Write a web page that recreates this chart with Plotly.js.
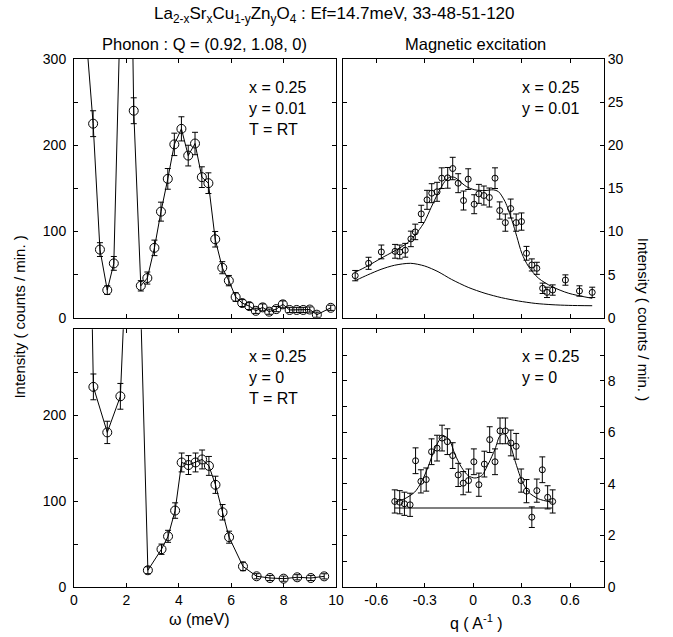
<!DOCTYPE html>
<html>
<head>
<meta charset="utf-8">
<script src="https://cdn.plot.ly/plotly-3.0.1.min.js"></script>
<style>html,body{margin:0;padding:0;background:#fff;}#chart{width:673px;height:637px;}</style>
</head>
<body>
<div id="chart"></div>
<script>
// ---- Top-left: phonon, x=0.25 y=0.01 ----
const tlX = [0.47, 0.73, 0.99, 1.27, 1.52, 1.77, 2.02, 2.28, 2.55, 2.80, 3.07, 3.32, 3.58, 3.83, 4.10, 4.36, 4.62, 4.88, 5.13, 5.39, 5.66, 5.91, 6.17, 6.42, 6.69, 6.94, 7.20, 7.45, 7.72, 7.97, 8.23, 8.50, 8.75, 9.00, 9.27, 9.80];
const tlY = [325, 225, 79, 32, 63, 360, 770, 240, 37, 46, 81, 123, 161, 201, 219, 188, 202, 163, 156, 91, 58, 43, 24, 17, 13.5, 8, 12, 7, 10, 15.5, 9, 9, 9, 9.5, 3.5, 11.5];
const tlErr = [0, 15, 8, 5, 8, 0, 0, 15, 6, 7, 9, 11, 12, 13, 14, 12, 13, 12, 12, 9, 7, 6, 5, 4, 4, 3, 4, 3, 3, 4, 3, 3, 3, 3, 3, 3];

// ---- Bottom-left: phonon, x=0.25 y=0 ----
const blX = [0.24, 0.74, 1.27, 1.77, 2.30, 2.82, 3.34, 3.59, 3.86, 4.11, 4.37, 4.64, 4.89, 5.15, 5.40, 5.67, 5.92, 6.45, 6.97, 7.48, 8.00, 8.52, 9.04, 9.55];
const blY = [1070, 233, 180, 222, 600, 19.5, 44, 59, 89, 145, 142, 145, 148.5, 141, 119, 87, 58, 24, 12.5, 10.5, 9.7, 11.3, 10.5, 12.4];
const blErr = [0, 15, 13, 15, 0, 4, 6, 7, 9, 11, 11, 11, 11, 11, 10, 9, 7, 5, 3, 3, 3, 3, 3, 3];

// ---- Top-right: magnetic, x=0.25 y=0.01 ----
const trQ = [-0.731, -0.648, -0.569, -0.484, -0.455, -0.421, -0.386, -0.359, -0.322, -0.286, -0.257, -0.224, -0.195, -0.158, -0.127, -0.093, -0.060, -0.031, 0.006, 0.035, 0.066, 0.100, 0.135, 0.164, 0.199, 0.232, 0.266, 0.299, 0.330, 0.363, 0.394, 0.430, 0.457, 0.492, 0.571, 0.658, 0.737];
const trI = [4.88, 6.31, 7.63, 7.70, 7.63, 7.82, 9.14, 9.95, 12.04, 13.67, 14.44, 14.60, 16.18, 16.22, 17.30, 15.60, 13.59, 16.07, 13.16, 14.36, 14.17, 13.94, 16.18, 12.43, 11.03, 12.66, 11.03, 11.15, 7.47, 6.12, 5.73, 3.41, 2.94, 3.21, 4.37, 3.10, 2.94];
const trErr = [0.6, 0.7, 0.8, 0.8, 0.8, 0.8, 0.9, 0.9, 1.0, 1.1, 1.1, 1.1, 1.2, 1.2, 1.3, 1.1, 1.1, 1.2, 1.1, 1.1, 1.1, 1.1, 1.2, 1.0, 1.0, 1.1, 1.0, 1.0, 0.8, 0.7, 0.7, 0.6, 0.6, 0.6, 0.6, 0.6, 0.6];
const trFitQ = [-0.731, -0.654, -0.571, -0.488, -0.405, -0.343, -0.301, -0.260, -0.218, -0.176, -0.145, -0.114, -0.083, -0.042, 0.010, 0.073, 0.125, 0.156, 0.197, 0.239, 0.270, 0.301, 0.343, 0.405, 0.488, 0.592, 0.737];
const trFitI = [5.27, 6.00, 6.89, 7.74, 8.71, 9.99, 11.15, 12.81, 14.44, 15.80, 16.30, 16.26, 15.80, 15.21, 14.83, 14.75, 14.83, 14.63, 13.47, 11.34, 9.41, 7.47, 5.92, 4.57, 3.60, 2.83, 2.25];
const trBgQ = [-0.731, -0.654, -0.571, -0.488, -0.388, -0.301, -0.218, -0.135, -0.031, 0.073, 0.176, 0.280, 0.384, 0.488, 0.592, 0.737];
const trBgI = [4.30, 4.96, 5.61, 6.08, 6.31, 6.00, 5.34, 4.45, 3.52, 2.83, 2.32, 1.94, 1.66, 1.51, 1.43, 1.39];

// ---- Bottom-right: magnetic, x=0.25 y=0 ----
const brQ = [-0.486, -0.455, -0.426, -0.391, -0.357, -0.324, -0.291, -0.258, -0.224, -0.193, -0.160, -0.127, -0.093, -0.062, -0.029, 0.004, 0.035, 0.069, 0.102, 0.135, 0.166, 0.199, 0.233, 0.266, 0.297, 0.330, 0.363, 0.394, 0.428, 0.461, 0.492];
const brI = [3.32, 3.29, 3.23, 3.19, 4.90, 4.10, 4.17, 5.25, 5.39, 5.78, 5.64, 5.10, 4.35, 4.03, 4.13, 4.86, 3.97, 4.77, 5.72, 4.86, 6.06, 6.06, 5.59, 5.46, 4.13, 3.72, 2.71, 3.74, 4.55, 3.48, 3.32];
const brErr = [0.45, 0.45, 0.45, 0.45, 0.5, 0.45, 0.45, 0.5, 0.5, 0.5, 0.5, 0.5, 0.45, 0.45, 0.45, 0.5, 0.45, 0.5, 0.5, 0.5, 0.5, 0.5, 0.5, 0.5, 0.45, 0.45, 0.4, 0.45, 0.5, 0.45, 0.45];
const brFitQ = [-0.486, -0.426, -0.363, -0.322, -0.280, -0.239, -0.197, -0.176, -0.145, -0.114, -0.073, -0.031, 0.010, 0.052, 0.093, 0.135, 0.166, 0.197, 0.228, 0.259, 0.301, 0.343, 0.405, 0.488];
const brFitI = [3.29, 3.42, 3.68, 4.06, 4.65, 5.35, 5.81, 5.85, 5.68, 5.16, 4.65, 4.32, 4.23, 4.32, 4.77, 5.35, 5.87, 5.94, 5.55, 4.90, 4.13, 3.68, 3.42, 3.29];
const brBaseQ = [-0.486, 0.488];
const brBaseI = [3.07, 3.07];

// ---- Tick labels ----
const omegaTicks = [0, 2, 4, 6, 8, 10];
const omegaTickText = ['0', '2', '4', '6', '8', '10'];
const qTicks = [-0.6, -0.3, 0, 0.3, 0.6];
const qTickText = ['-0.6', '-0.3', '0', '0.3', '0.6'];
const phTicksTop = [0, 100, 200, 300];
const phTickTextTop = ['0', '100', '200', '300'];
const phTicksBot = [0, 100, 200];
const phTickTextBot = ['0', '100', '200'];
const magTicksTop = [0, 5, 10, 15, 20, 25, 30];
const magTickTextTop = ['0', '5', '10', '15', '20', '25', '30'];
const magTicksBot = [0, 2, 4, 6, 8];
const magTickTextBot = ['0', '2', '4', '6', '8'];

const FONT = 'Liberation Sans, Arial, Helvetica, sans-serif';
const K = 'black';

function pts(x, y, err, xa, ya, size) {
  return {
    x: x, y: y, xaxis: xa, yaxis: ya, type: 'scatter', mode: 'markers',
    marker: {symbol: 'circle-open', size: size, color: K, line: {width: 1, color: K}},
    error_y: {type: 'data', array: err, visible: true, color: K, thickness: 1, width: 3},
    showlegend: false, hoverinfo: 'skip'
  };
}
function line(x, y, xa, ya, shape, color, w) {
  return {x: x, y: y, xaxis: xa, yaxis: ya, type: 'scatter', mode: 'lines',
    line: {color: color || K, width: w || 1, shape: shape || 'linear', smoothing: 0.8},
    showlegend: false, hoverinfo: 'skip'};
}

const data = [
  line(tlX, tlY, 'x', 'y'),
  pts(tlX, tlY, tlErr, 'x', 'y', 9),
  line(blX, blY, 'x3', 'y3'),
  pts(blX, blY, blErr, 'x3', 'y3', 9),
  line(trBgQ, trBgI, 'x2', 'y2', 'spline'),
  line(trFitQ, trFitI, 'x2', 'y2', 'spline'),
  pts(trQ, trI, trErr, 'x2', 'y2', 6),
  line(brBaseQ, brBaseI, 'x4', 'y4', 'linear', '#555', 1.5),
  line(brFitQ, brFitI, 'x4', 'y4', 'spline'),
  pts(brQ, brI, brErr, 'x4', 'y4', 6)
];

const axBase = {
  showgrid: false, zeroline: false, showline: true, linecolor: K, linewidth: 1,
  mirror: 'ticks', ticks: 'inside', ticklen: 4, tickwidth: 1, tickcolor: K,
  tickmode: 'array', tickfont: {family: FONT, size: 14, color: K}, fixedrange: true
};
function ax(extra) { return Object.assign({}, axBase, extra); }
function minor(d) { return {dtick: d, tick0: 0, ticks: 'inside', ticklen: 4, tickwidth: 1, tickcolor: K, showgrid: false}; }

const xL = [0, 0.4943], xR = [0.508, 1];
const yT = [0.510, 1], yB = [0, 0.488];

const layout = {
  width: 673, height: 637,
  margin: {l: 74, r: 69, t: 59, b: 50},
  paper_bgcolor: 'white', plot_bgcolor: 'white',
  font: {family: FONT, color: K, size: 14},
  showlegend: false,
  xaxis: ax({domain: xL, anchor: 'y', range: [0, 10], tickvals: omegaTicks, ticktext: omegaTickText, showticklabels: false}),
  yaxis: ax({domain: yT, anchor: 'x', range: [0, 300], tickvals: phTicksTop, ticktext: phTickTextTop, minor: minor(50), ticklabelstandoff: 4}),
  xaxis2: ax({domain: xR, anchor: 'y2', range: [-0.805, 0.81], tickvals: qTicks, ticktext: qTickText, showticklabels: false}),
  yaxis2: ax({domain: yT, anchor: 'x2', range: [0, 30], side: 'right', tickvals: magTicksTop, ticktext: magTickTextTop}),
  xaxis3: ax({domain: xL, anchor: 'y3', range: [0, 10], tickvals: omegaTicks, ticktext: omegaTickText}),
  yaxis3: ax({domain: yB, anchor: 'x3', range: [0, 300], tickvals: phTicksBot, ticktext: phTickTextBot, minor: minor(50), ticklabelstandoff: 4}),
  xaxis4: ax({domain: xR, anchor: 'y4', range: [-0.805, 0.81], tickvals: qTicks, ticktext: qTickText}),
  yaxis4: ax({domain: yB, anchor: 'x4', range: [0, 10], side: 'right', tickvals: magTicksBot, ticktext: magTickTextBot, minor: minor(1)}),
  annotations: [
    {text: 'La<sub>2-x</sub>Sr<sub>x</sub>Cu<sub>1-y</sub>Zn<sub>y</sub>O<sub>4</sub> : Ef=14.7meV, 33-48-51-120',
     xref: 'paper', yref: 'paper', x: 0.492, y: 1.083, xanchor: 'center', yanchor: 'middle', showarrow: false, font: {size: 17}},
    {text: 'Phonon : Q = (0.92, 1.08, 0)', xref: 'paper', yref: 'paper', x: 0.247, y: 1.028, xanchor: 'center', yanchor: 'middle', showarrow: false, font: {size: 16.5}},
    {text: 'Magnetic excitation', xref: 'paper', yref: 'paper', x: 0.757, y: 1.028, xanchor: 'center', yanchor: 'middle', showarrow: false, font: {size: 16.5}},
    {text: 'ω (meV)', xref: 'paper', yref: 'paper', x: 0.237, y: -0.061, xanchor: 'center', yanchor: 'middle', showarrow: false, font: {size: 16}},
    {text: 'q ( A<sup>-1</sup> )', xref: 'paper', yref: 'paper', x: 0.76, y: -0.066, xanchor: 'center', yanchor: 'middle', showarrow: false, font: {size: 16}},
    {text: 'Intensity ( counts / min. )', xref: 'paper', yref: 'paper', x: -0.102, y: 0.512, xanchor: 'center', yanchor: 'middle', textangle: -90, showarrow: false, font: {size: 15}},
    {text: 'Intensity ( counts / min. )', xref: 'paper', yref: 'paper', x: 1.0736, y: 0.508, xanchor: 'center', yanchor: 'middle', textangle: 90, showarrow: false, font: {size: 15}},
    {text: 'x = 0.25<br>y = 0.01<br>T = RT', xref: 'paper', yref: 'paper', x: 0.326, y: 0.966, xanchor: 'left', yanchor: 'top', align: 'left', showarrow: false, font: {size: 16}},
    {text: 'x = 0.25<br>y = 0.01', xref: 'paper', yref: 'paper', x: 0.8415, y: 0.966, xanchor: 'left', yanchor: 'top', align: 'left', showarrow: false, font: {size: 16}},
    {text: 'x = 0.25<br>y = 0<br>T = RT', xref: 'paper', yref: 'paper', x: 0.326, y: 0.456, xanchor: 'left', yanchor: 'top', align: 'left', showarrow: false, font: {size: 16}},
    {text: 'x = 0.25<br>y = 0', xref: 'paper', yref: 'paper', x: 0.8415, y: 0.456, xanchor: 'left', yanchor: 'top', align: 'left', showarrow: false, font: {size: 16}}
  ]
};

Plotly.newPlot('chart', data, layout, {staticPlot: true, displayModeBar: false});
</script>
</body>
</html>
